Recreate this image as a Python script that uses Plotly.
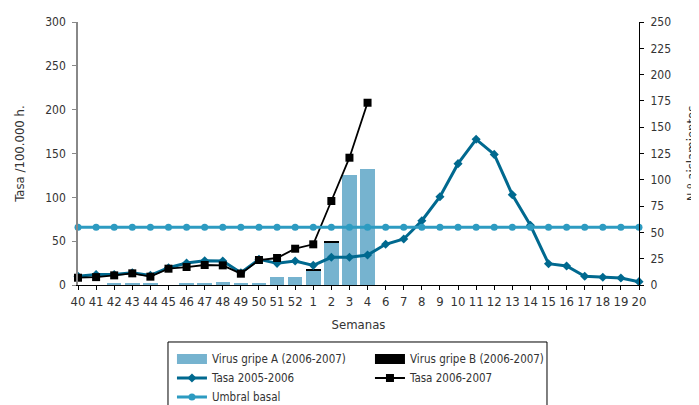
import plotly.graph_objects as go

weeks = ["40", "41", "42", "43", "44", "45", "46", "47", "48", "49", "50", "51", "52",
         "1", "2", "3", "4", "6", "7", "8", "9", "10", "11", "12", "13", "14", "15",
         "16", "17", "18", "19", "20"]

virus_a = [0, 0, 1, 1, 1, 0, 1, 2, 3, 1, 2, 7.5, 7.5, 13.6, 40, 104.5, 110.3] + [None] * 15
virus_b = [0, 0, 0, 0, 0, 0, 0, 0, 0, 0, 0, 0, 0, 1.6, 1.7, 0, 0] + [None] * 15

tasa_0506 = [10, 12, 12, 14, 11, 19.7, 25, 27.7, 27.4, 14, 29.3, 24.7, 27.4,
             22.4, 31.6, 31.6, 34.2, 46.4, 52.5, 73.3, 100.7, 138.4, 166.2, 149,
             103, 68.1, 24.3, 21.7, 9.9, 8.8, 8, 3.8]
tasa_0607 = [8.3, 9, 11, 13.3, 9.5, 18.6, 20.5, 22.8, 22.4, 12.9, 28.5, 30.8, 41.4,
             46.4, 95.8, 145.2, 207.9] + [None] * 15
umbral = [66] * len(weeks)

left_ticks = [0, 50, 100, 150, 200, 250, 300]
right_ticks = [0, 25, 50, 75, 100, 125, 150, 175, 200, 225, 250]

C_BAR = "#76b3cf"
C_0506 = "#00698f"
C_UMB = "#2d9bc1"
FONT = "DejaVu Sans Condensed, Liberation Sans Narrow, Arial Narrow, sans-serif"

fig = go.Figure()

# legend-only entries for the bar series (wide rectangular swatches)
fig.add_trace(go.Scatter(x=[None], y=[None], mode="lines", name="Virus gripe A (2006-2007)",
                         line=dict(color=C_BAR, width=11), yaxis="y"))
fig.add_trace(go.Scatter(x=[None], y=[None], mode="lines", name="Virus gripe B (2006-2007)",
                         line=dict(color="#000000", width=11), yaxis="y"))

fig.add_trace(go.Bar(x=weeks, y=virus_a, marker=dict(color=C_BAR, line=dict(width=0)),
                     showlegend=False, yaxis="y", name="Virus gripe A (2006-2007)"))
fig.add_trace(go.Bar(x=weeks, y=virus_b, marker=dict(color="#000000", line=dict(width=0)),
                     showlegend=False, yaxis="y", name="Virus gripe B (2006-2007)"))

fig.add_trace(go.Scatter(x=weeks, y=tasa_0506, mode="lines+markers", name="Tasa 2005-2006",
                         line=dict(color=C_0506, width=3),
                         marker=dict(symbol="diamond", size=7, color=C_0506),
                         yaxis="y2", cliponaxis=False))
fig.add_trace(go.Scatter(x=weeks, y=tasa_0607, mode="lines+markers", name="Tasa 2006-2007",
                         line=dict(color="#000000", width=1.8),
                         marker=dict(symbol="square", size=8, color="#000000"),
                         yaxis="y2", cliponaxis=False))
fig.add_trace(go.Scatter(x=weeks, y=umbral, mode="lines+markers", name="Umbral basal",
                         line=dict(color=C_UMB, width=3),
                         marker=dict(symbol="circle", size=7, color=C_UMB),
                         yaxis="y2", cliponaxis=False))

fig.update_layout(
    width=691, height=397,
    margin=dict(l=70, r=60, t=14, b=120, autoexpand=False),
    paper_bgcolor="white", plot_bgcolor="white",
    font=dict(family=FONT, size=13, color="#333333"),
    barmode="stack", bargap=0.2,
    xaxis=dict(type="category", categoryorder="array", categoryarray=weeks,
               range=[0, 31], showgrid=False, zeroline=False,
               showline=True, linecolor="#000000", linewidth=1,
               ticks="outside", ticklen=4, tickcolor="#000000", tickangle=0,
               title=dict(text="Semanas", font=dict(size=13), standoff=12),
               tickfont=dict(size=13)),
    yaxis=dict(side="right", range=[0, 250], tickvals=right_ticks,
               showgrid=False, zeroline=False, showline=True, linecolor="#000000",
               linewidth=1, ticks="outside", ticklen=4, tickcolor="#000000",
               ticklabelstandoff=4,
               title=dict(text="N.º aislamientos", font=dict(size=13), standoff=16),
               tickfont=dict(size=12)),
    yaxis2=dict(side="left", overlaying="y", range=[0, 300], tickvals=left_ticks,
                showgrid=False, zeroline=False, showline=True, linecolor="#888888",
                linewidth=1.5, ticks="outside", ticklen=4, tickcolor="#888888",
                ticklabelstandoff=4,
                title=dict(text="Tasa /100.000 h.", font=dict(size=13), standoff=18),
                tickfont=dict(size=12)),
    legend=dict(orientation="h", x=0.1675, xanchor="left", y=-0.2262, yanchor="top",
                borderwidth=0, bgcolor="rgba(0,0,0,0)",
                entrywidth=153, entrywidthmode="pixels", traceorder="normal",
                font=dict(size=11.5), tracegroupgap=0, itemwidth=30),
    shapes=[dict(type="rect", xref="paper", yref="paper",
                 x0=0.1604, x1=0.836, y0=-0.2167, y1=-0.52,
                 line=dict(color="#000000", width=1), fillcolor="rgba(0,0,0,0)",
                 layer="above")],
    showlegend=True,
)

fig.write_html("out.html")
